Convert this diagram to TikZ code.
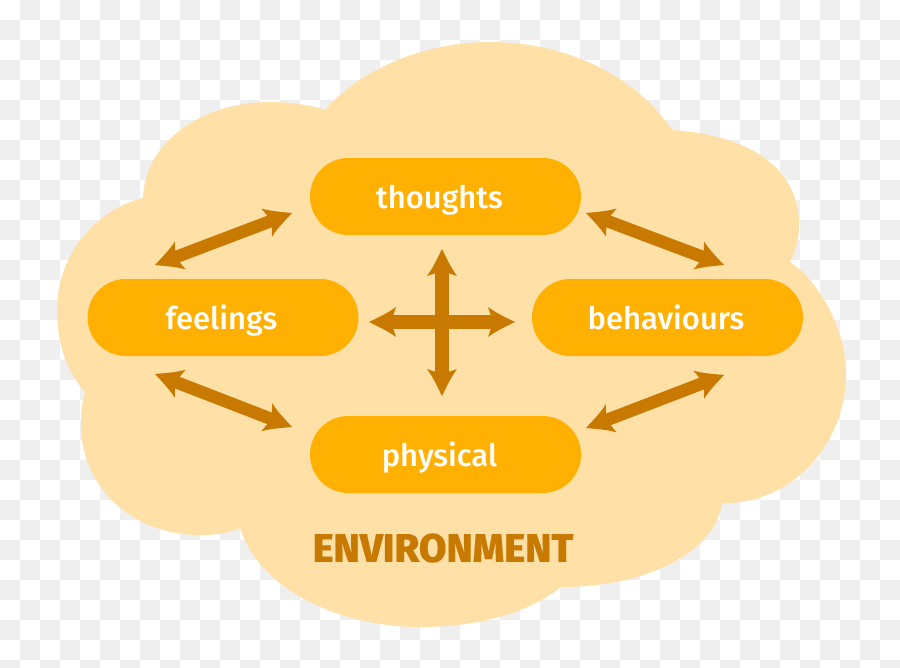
\documentclass[tikz,border=0pt]{standalone}
\usepackage{fontspec}
\usetikzlibrary{arrows.meta}
\newfontfamily\pillfont{Fira Sans Medium}
\newfontfamily\envfont[FakeBold=0.3]{Fira Sans ExtraBold}
\definecolor{cloudfill}{HTML}{FFE0A6}
\definecolor{pillfill}{HTML}{FFB000}
\definecolor{arrowdark}{HTML}{C87A00}
\definecolor{checkgrey}{HTML}{EFEFEF}
\pgfdeclarearrow{
    name=barbhead,
    setup code={
        \pgfarrowssettipend{27pt}
        \pgfarrowssetlineend{7pt}
        \pgfarrowssetbackend{0pt}
        \pgfarrowssetvisualbackend{7pt}
    },
    drawing code={
        \pgfpathmoveto{\pgfqpoint{27pt}{0pt}}
        \pgfpathcurveto{\pgfqpoint{18pt}{4.5pt}}{\pgfqpoint{8pt}{9pt}}{\pgfqpoint{0pt}{15pt}}
        \pgfpathlineto{\pgfqpoint{5pt}{0pt}}
        \pgfpathlineto{\pgfqpoint{0pt}{-15pt}}
        \pgfpathcurveto{\pgfqpoint{8pt}{-9pt}}{\pgfqpoint{18pt}{-4.5pt}}{\pgfqpoint{27pt}{0pt}}
        \pgfpathclose
        \pgfusepathqfill
    },
}
\begin{document}
\begin{tikzpicture}[x=1pt,y=-1pt]
            \tikzstyle{every node}+=[inner sep=0pt]
            \tikzstyle{pill}=[fill=pillfill, rounded corners=38.4pt, minimum width=271pt, minimum height=77pt, text height=29pt, text depth=6pt, text=white, font=\pillfont\fontsize{31}{36}\selectfont]
            \tikzstyle{twohead}=[draw=arrowdark, line width=12.5pt, barbhead-barbhead]
            \tikzstyle{crosshead}=[twohead, line width=13.5pt]
            \clip (0,0) rectangle (900,667);
            \fill [white] (0,0) rectangle (900,667);
            \foreach \col in {0,...,44}
                \foreach \row in {0,...,33} {
                    \pgfmathtruncatemacro{\odd}{mod(\col+\row,2)}
                    \ifnum\odd=1
                        \fill [checkgrey] (20*\col,20*\row) rectangle ++(20,20);
                    \fi
                }
            \fill [cloudfill] (325,110) .. controls (365,65) and (430,42) .. (490,42)
                .. controls (565,42) and (635,75) .. (672,130)
                .. controls (745,135) and (799,165) .. (799,225)
                .. controls (799,240) and (795,252) .. (790,262)
                .. controls (815,278) and (846,325) .. (846,374)
                .. controls (846,445) and (790,505) .. (722,503)
                .. controls (716,550) and (650,587) .. (561,587)
                .. controls (530,612) and (480,627) .. (420,627)
                .. controls (340,627) and (260,590) .. (240,528)
                .. controls (225,534) and (215,535) .. (200,535)
                .. controls (130,535) and (81,485) .. (81,425)
                .. controls (81,412) and (82,402) .. (85,392)
                .. controls (65,370) and (57,340) .. (57,310)
                .. controls (57,255) and (95,210) .. (143,198)
                .. controls (145,140) and (205,102) .. (270,102)
                .. controls (290,102) and (310,105) .. (325,110) -- cycle;
            \node [pill] (thoughts) at (445.5,196.5) {\hspace*{-12pt}thoughts};
            \node [pill] (feelings) at (223,317.5) {\hspace*{-3pt}feelings};
            \node [pill] (behaviours) at (667.5,317.5) {\hspace*{-3pt}behaviours};
            \node [pill] (physical) at (445.5,454.5) {\hspace*{-12pt}physical};
            \node [text=arrowdark, font=\envfont\fontsize{40}{48}\selectfont] (environment) at (443,548) {ENVIRONMENT};
            \coordinate (tf1) at (292,213);
            \coordinate (tf2) at (155,265);
            \coordinate (tb1) at (586,213);
            \coordinate (tb2) at (724,265);
            \coordinate (fp1) at (155,374);
            \coordinate (fp2) at (292,427);
            \coordinate (bp1) at (724,375);
            \coordinate (bp2) at (586,428);
            \coordinate (crossl) at (369,322);
            \coordinate (crossr) at (515,322);
            \coordinate (crosst) at (442,249);
            \coordinate (crossb) at (442,396);
            \draw [twohead] (tf1) -- (tf2);
            \draw [twohead] (tb1) -- (tb2);
            \draw [twohead] (fp1) -- (fp2);
            \draw [twohead] (bp1) -- (bp2);
            \draw [crosshead] (crossl) -- (crossr);
            \draw [crosshead] (crosst) -- (crossb);
\end{tikzpicture}
\end{document}
